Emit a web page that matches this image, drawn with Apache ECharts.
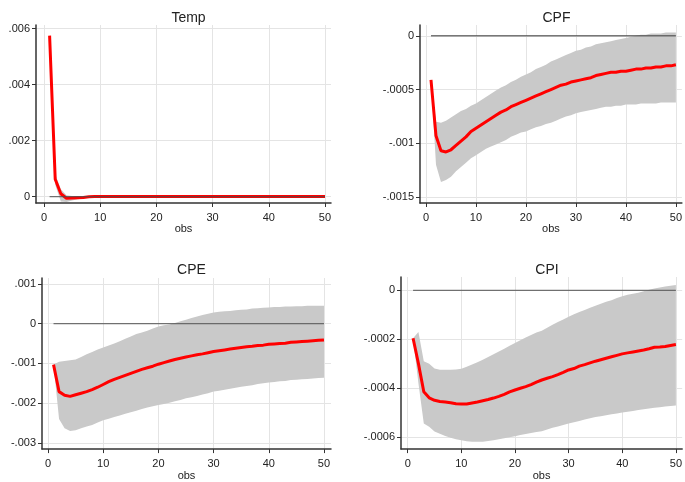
<!DOCTYPE html>
<html>
<head>
<meta charset="utf-8">
<script src="https://cdn.jsdelivr.net/npm/echarts@6/dist/echarts.min.js"></script>
<style>
  html, body { margin: 0; padding: 0; background: #ffffff; }
  #chart { width: 685px; height: 482px; }
</style>
</head>
<body>
<div id="chart"></div>
<script>
// Impulse-response steps
const steps = [1,2,3,4,5,6,7,8,9,10,11,12,13,14,15,16,17,18,19,20,21,22,23,24,25,
  26,27,28,29,30,31,32,33,34,35,36,37,38,39,40,41,42,43,44,45,46,47,48,49,50];

const xTicks = [0, 10, 20, 30, 40, 50];
const xTickLabels = ['0', '10', '20', '30', '40', '50'];

// Temp
const tempIrf = [0.00575,0.00062,0.0001,-0.00006,-0.00005,-0.00004,-0.00003,-0.00001,0,0,
  0,0,0,0,0,0,0,0,0,0,0,0,0,0,0,0,0,0,0,0,0,0,0,0,0,0,0,0,0,0,0,0,0,0,0,0,0,0,0,0];
const tempLo = [0.00575,0.00042,-0.00018,-0.00019,-0.00014,-0.0001,-0.00007,-0.00003,0,0,
  0,0,0,0,0,0,0,0,0,0,0,0,0,0,0,0,0,0,0,0,0,0,0,0,0,0,0,0,0,0,0,0,0,0,0,0,0,0,0,0];
const tempHi = [0.00575,0.0008,0.00026,0.00005,0.00002,0.00001,0,0,0,0,
  0,0,0,0,0,0,0,0,0,0,0,0,0,0,0,0,0,0,0,0,0,0,0,0,0,0,0,0,0,0,0,0,0,0,0,0,0,0,0,0];
const tempYTicks = [0, 0.002, 0.004, 0.006];
const tempYLabels = ['0', '.002', '.004', '.006'];

// CPF
const cpfIrf = [-0.00041,-0.00093,-0.00107,-0.00108,-0.00106,-0.00102,-0.00098,-0.00094,-0.00089,-0.00086,
  -0.00083,-0.0008,-0.00077,-0.00074,-0.00071,-0.00069,-0.00066,-0.00064,-0.00062,-0.0006,
  -0.00058,-0.00056,-0.00054,-0.00052,-0.0005,-0.00048,-0.00046,-0.00045,-0.00043,-0.00042,
  -0.00041,-0.0004,-0.00039,-0.00037,-0.00036,-0.00035,-0.00034,-0.00034,-0.00033,-0.00033,
  -0.00032,-0.00031,-0.00031,-0.0003,-0.0003,-0.00029,-0.00029,-0.00028,-0.00028,-0.00027];
const cpfLo = [-0.00041,-0.0012,-0.00136,-0.00134,-0.00131,-0.00126,-0.00122,-0.00118,-0.00114,-0.00111,
  -0.00108,-0.00105,-0.00103,-0.00101,-0.00099,-0.00097,-0.00094,-0.00092,-0.0009,-0.00089,
  -0.00087,-0.00085,-0.00084,-0.00082,-0.00081,-0.00079,-0.00077,-0.00075,-0.00074,-0.00072,
  -0.00071,-0.0007,-0.00069,-0.00068,-0.00067,-0.00066,-0.00066,-0.00065,-0.00065,-0.00064,
  -0.00064,-0.00064,-0.00063,-0.00063,-0.00063,-0.00063,-0.00062,-0.00062,-0.00062,-0.00062];
const cpfHi = [-0.00041,-0.0008,-0.00081,-0.00079,-0.00076,-0.00073,-0.0007,-0.00068,-0.00065,-0.00063,
  -0.0006,-0.00057,-0.00054,-0.00051,-0.00048,-0.00046,-0.00043,-0.00041,-0.00038,-0.00036,
  -0.00034,-0.00031,-0.00029,-0.00027,-0.00024,-0.00022,-0.0002,-0.00018,-0.00016,-0.00014,
  -0.00013,-0.00011,-0.0001,-0.00008,-0.00007,-0.00006,-0.00005,-0.00004,-0.00003,-0.00002,
  -0.00001,0,0.00001,0.00001,0.00002,0.00002,0.00002,0.00003,0.00003,0.00003];
const cpfYTicks = [-0.0015, -0.001, -0.0005, 0];
const cpfYLabels = ['-.0015', '-.001', '-.0005', '0'];

// CPE
const cpeIrf = [-0.00103,-0.00171,-0.0018,-0.00183,-0.00179,-0.00175,-0.00171,-0.00166,-0.0016,-0.00153,
  -0.00146,-0.0014,-0.00135,-0.0013,-0.00125,-0.0012,-0.00115,-0.00111,-0.00107,-0.00102,
  -0.00098,-0.00094,-0.0009,-0.00087,-0.00084,-0.00081,-0.00078,-0.00076,-0.00073,-0.0007,
  -0.00068,-0.00066,-0.00064,-0.00062,-0.0006,-0.00058,-0.00057,-0.00055,-0.00054,-0.00052,
  -0.00051,-0.0005,-0.00049,-0.00047,-0.00046,-0.00045,-0.00044,-0.00043,-0.00042,-0.00041];
const cpeLo = [-0.00103,-0.0024,-0.00263,-0.0027,-0.00268,-0.00263,-0.00259,-0.00255,-0.00249,-0.00243,
  -0.00239,-0.00235,-0.00231,-0.00227,-0.00223,-0.00219,-0.00215,-0.00211,-0.00208,-0.00205,
  -0.00202,-0.00199,-0.00195,-0.00192,-0.00188,-0.00185,-0.00182,-0.00178,-0.00175,-0.00171,
  -0.00169,-0.00166,-0.00164,-0.00161,-0.00159,-0.00157,-0.00155,-0.00152,-0.0015,-0.00148,
  -0.00147,-0.00145,-0.00144,-0.00142,-0.00141,-0.0014,-0.00139,-0.00138,-0.00137,-0.00136];
const cpeHi = [-0.00103,-0.00096,-0.00094,-0.00092,-0.0009,-0.00084,-0.00077,-0.00071,-0.00065,-0.0006,
  -0.00055,-0.0005,-0.00044,-0.00038,-0.00032,-0.00026,-0.00022,-0.00018,-0.00012,-0.00007,
  -0.00004,-0.00002,0.00002,0.00006,0.0001,0.00014,0.00018,0.00022,0.00025,0.00028,
  0.0003,0.00031,0.00032,0.00034,0.00035,0.00036,0.00038,0.00039,0.0004,0.00041,
  0.00042,0.00042,0.00043,0.00043,0.00044,0.00044,0.00045,0.00045,0.00045,0.00045];
const cpeYTicks = [-0.003, -0.002, -0.001, 0, 0.001];
const cpeYLabels = ['-.003', '-.002', '-.001', '0', '.001'];

// CPI
const cpiIrf = [-0.000196,-0.0003,-0.000415,-0.00044,-0.00045,-0.000455,-0.000457,-0.00046,-0.000464,-0.000465,
  -0.000465,-0.000461,-0.000457,-0.000452,-0.000447,-0.000441,-0.000434,-0.000426,-0.000416,-0.000408,
  -0.000401,-0.000394,-0.000386,-0.000376,-0.000367,-0.00036,-0.000353,-0.000345,-0.000336,-0.000326,
  -0.00032,-0.00031,-0.000304,-0.000297,-0.00029,-0.000284,-0.000278,-0.000272,-0.000266,-0.00026,
  -0.000256,-0.000252,-0.000248,-0.000244,-0.000239,-0.000233,-0.000232,-0.00023,-0.000226,-0.000222];
const cpiLo = [-0.000196,-0.00038,-0.000545,-0.000558,-0.000578,-0.000587,-0.000596,-0.000604,-0.00061,-0.000614,
  -0.000618,-0.00062,-0.00062,-0.00062,-0.000617,-0.000614,-0.00061,-0.000606,-0.000601,-0.000597,
  -0.000592,-0.000588,-0.000584,-0.00058,-0.000577,-0.00057,-0.000563,-0.000557,-0.000551,-0.000545,
  -0.00054,-0.000535,-0.000529,-0.000524,-0.000519,-0.000515,-0.000511,-0.000507,-0.000504,-0.0005,
  -0.000497,-0.000494,-0.00049,-0.000487,-0.000484,-0.000481,-0.000479,-0.000476,-0.000474,-0.000471];
const cpiHi = [-0.000196,-0.00017,-0.00029,-0.0003,-0.00032,-0.000325,-0.000325,-0.000325,-0.000324,-0.000321,
  -0.000313,-0.000304,-0.000294,-0.000284,-0.000273,-0.000262,-0.00025,-0.000239,-0.000227,-0.000215,
  -0.000204,-0.000193,-0.000183,-0.000173,-0.000165,-0.000153,-0.000141,-0.00013,-0.000119,-0.000108,
  -0.000098,-0.000089,-0.00008,-0.000071,-0.000063,-0.000055,-0.000047,-0.00004,-0.000031,-0.000024,
  -0.000018,-0.000014,-0.00001,-0.000004,0.000003,0.000008,0.000012,0.000016,0.000019,0.000022];
const cpiYTicks = [-0.0006, -0.0004, -0.0002, 0];
const cpiYLabels = ['-.0006', '-.0004', '-.0002', '0'];

// Panel layout (pixels) and axis extents
const panels = [
  { title: 'Temp', irf: tempIrf, lo: tempLo, hi: tempHi, yTicks: tempYTicks, yLabels: tempYLabels,
    box: { left: 36, top: 25, width: 295, height: 178 }, xMin: -1.42, xMax: 51.07, yMin: -0.00023, yMax: 0.00613, titleTop: 6 },
  { title: 'CPF', irf: cpfIrf, lo: cpfLo, hi: cpfHi, yTicks: cpfYTicks, yLabels: cpfYLabels,
    box: { left: 420, top: 25, width: 263, height: 178 }, xMin: -1.2, xMax: 51.2, yMin: -0.001555, yMax: 0.0001, titleTop: 6 },
  { title: 'CPE', irf: cpeIrf, lo: cpeLo, hi: cpeHi, yTicks: cpeYTicks, yLabels: cpeYLabels,
    box: { left: 42, top: 278, width: 289, height: 179 }, xMin: -1.09, xMax: 51.27, yMin: -0.003157, yMax: 0.00115, titleTop: 258 },
  { title: 'CPI', irf: cpiIrf, lo: cpiLo, hi: cpiHi, yTicks: cpiYTicks, yLabels: cpiYLabels,
    box: { left: 401, top: 277, width: 282, height: 180 }, xMin: -1.25, xMax: 51.17, yMin: -0.00065, yMax: 0.0000548, titleTop: 258 }
];

const FONT = '"Liberation Sans", Arial, sans-serif';
const TEXT = '#222222';
const AXIS = '#333333';
const GRIDLINE = '#e4e4e4';
const BAND = '#c9c9c9';

function labelFor(values, labels) {
  return function (v) {
    let best = 0, d = Infinity;
    values.forEach(function (t, i) {
      const dd = Math.abs(t - v);
      if (dd < d) { d = dd; best = i; }
    });
    return labels[best];
  };
}

// Confidence band drawn as one polygon: upper bound forward, lower bound back
function bandRenderer(p) {
  return function (params, api) {
    if (params.dataIndex !== 0) return null;
    const pts = [];
    for (let k = 0; k < steps.length; k++) pts.push(api.coord([steps[k], p.hi[k]]));
    for (let k = steps.length - 1; k >= 0; k--) pts.push(api.coord([steps[k], p.lo[k]]));
    return {
      type: 'polygon',
      shape: { points: pts },
      style: { fill: BAND, stroke: null }
    };
  };
}

const grid = [], xAxis = [], yAxis = [], series = [], title = [];

panels.forEach(function (p, i) {
  grid.push(Object.assign({ containLabel: false }, p.box));
  title.push({
    text: p.title,
    left: p.box.left + p.box.width / 2,
    top: p.titleTop,
    textAlign: 'center',
    textStyle: { fontFamily: FONT, fontSize: 14, fontWeight: 'normal', color: TEXT }
  });
  xAxis.push({
    type: 'value', gridIndex: i, min: p.xMin, max: p.xMax,
    name: 'obs', nameLocation: 'middle', nameGap: 20,
    nameTextStyle: { fontFamily: FONT, fontSize: 11, color: TEXT },
    axisLine: { show: true, onZero: false, lineStyle: { color: AXIS, width: 1.5 } },
    axisTick: { show: true, customValues: xTicks, length: 4, lineStyle: { color: AXIS, width: 1 } },
    axisLabel: { customValues: xTicks, margin: 9, fontFamily: FONT, fontSize: 11, color: TEXT,
      formatter: labelFor(xTicks, xTickLabels) },
    splitLine: { show: true, lineStyle: { color: GRIDLINE, width: 1 } }
  });
  yAxis.push({
    type: 'value', gridIndex: i, min: p.yMin, max: p.yMax,
    axisLine: { show: true, onZero: false, lineStyle: { color: AXIS, width: 1.5 } },
    axisTick: { show: true, customValues: p.yTicks, length: 4, lineStyle: { color: AXIS, width: 1 } },
    axisLabel: { customValues: p.yTicks, margin: 6, fontFamily: FONT, fontSize: 11, color: TEXT,
      formatter: labelFor(p.yTicks, p.yLabels) },
    splitLine: { show: true, lineStyle: { color: GRIDLINE, width: 1 } }
  });

  series.push({
    type: 'custom', xAxisIndex: i, yAxisIndex: i, silent: true, z: 2, clip: true,
    renderItem: bandRenderer(p),
    encode: { x: 0, y: [1, 2] },
    data: steps.map(function (s, k) { return [s, p.lo[k], p.hi[k]]; })
  });
  // impulse response
  series.push({
    type: 'line', xAxisIndex: i, yAxisIndex: i, symbol: 'none', silent: true, z: 3,
    lineStyle: { color: '#ff0000', width: 3 },
    data: steps.map(function (s, k) { return [s, p.irf[k]]; })
  });
  // zero reference line, drawn over the response
  series.push({
    type: 'line', xAxisIndex: i, yAxisIndex: i, symbol: 'none', silent: true, z: 4,
    lineStyle: { color: '#4a4a4a', width: 1.3, opacity: 0.75 },
    data: [[steps[0], 0], [steps[steps.length - 1], 0]]
  });
});

const chart = echarts.init(document.getElementById('chart'), null, { renderer: 'canvas' });
chart.setOption({
  animation: false,
  backgroundColor: '#ffffff',
  title: title,
  grid: grid,
  xAxis: xAxis,
  yAxis: yAxis,
  series: series
});
</script>
</body>
</html>
